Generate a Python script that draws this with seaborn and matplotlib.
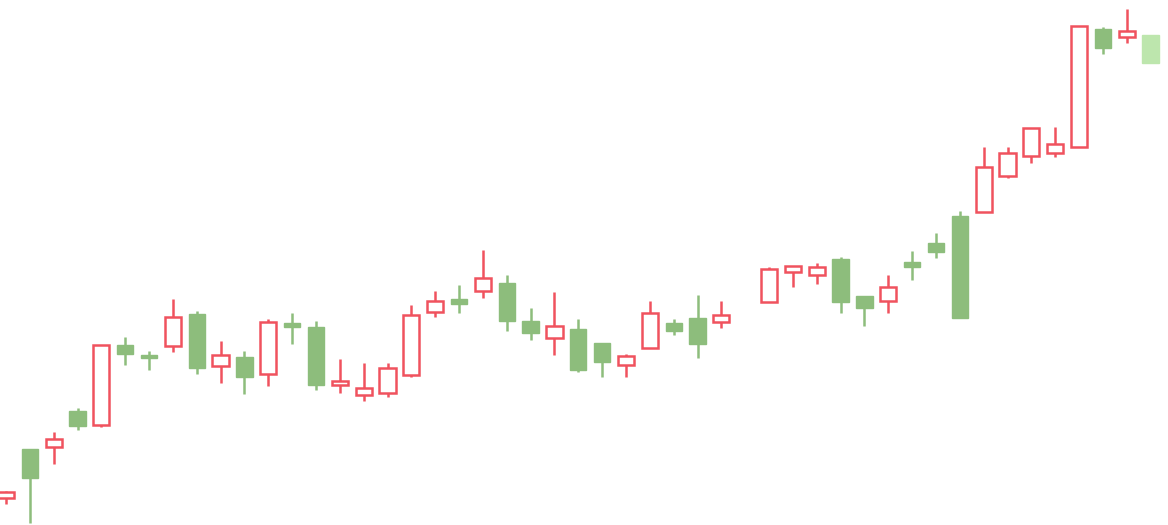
import numpy as np
import pandas as pd
import seaborn as sns
import matplotlib
matplotlib.use("Agg")
import matplotlib.pyplot as plt

# daily prices (slot 31 is a missing day)
opens = [27, 76, 78, 114, 100, 180, 170, 179, 211, 159, 168, 151, 202, 198, 140, 130,
         132, 150, 213, 226, 234, 242, 204, 187, 196, 182, 160, 177, 202, 207, 203, np.nan,
         223, 253, 250, 266, 229, 224, 263, 282, 309, 313, 349, 369, 372, 378, 496, 488, 490]
highs = [34, 76, 93, 117, 180, 188, 174, 226, 214, 184, 174, 206, 212, 204, 166, 162,
         162, 220, 234, 240, 275, 250, 217, 233, 206, 182, 171, 224, 206, 230, 224, np.nan,
         258, 259, 262, 268, 229, 250, 274, 292, 314, 378, 378, 397, 398, 499, 498, 516, 490]
lows = [21, 2, 61, 95, 98, 160, 155, 173, 151, 142, 131, 139, 181, 135, 132, 124,
        128, 148, 208, 212, 227, 194, 185, 170, 153, 148, 148, 177, 190, 167, 197, np.nan,
        223, 238, 241, 212, 199, 212, 245, 267, 207, 313, 347, 362, 368, 378, 471, 482, 462]
closes = [33, 47, 86, 99, 180, 171, 167, 208, 157, 170, 148, 203, 198, 140, 144, 137,
          157, 210, 224, 221, 247, 204, 192, 199, 155, 163, 169, 212, 194, 181, 210, np.nan,
          256, 259, 258, 223, 217, 238, 258, 273, 207, 358, 372, 397, 381, 499, 477, 494, 462]

df = pd.DataFrame({"open": opens, "high": highs, "low": lows, "close": closes})
df["day"] = np.arange(len(df))
df = df.dropna()
df["up"] = df["close"] >= df["open"]

sns.set_theme(style="white")

red = "#f0525e"
green = "#8dbd7c"
width = 0.68

fig = plt.figure(figsize=(11.68, 5.25), dpi=100)
ax = fig.add_axes([0, 0, 1, 1])

last_day = df["day"].max()
for _, r in df.iterrows():
    d = r["day"]
    lo_body = min(r["open"], r["close"])
    hi_body = max(r["open"], r["close"])
    h = max(hi_body - lo_body, 1.5)
    if r["up"]:
        # hollow red candle for up days
        ax.vlines(d, r["low"], r["high"], color=red, lw=1.8, zorder=1)
        ax.bar(d, h, bottom=lo_body, width=width, facecolor="white",
               edgecolor=red, linewidth=1.8, zorder=2)
    else:
        c = green if d != last_day else "#bde6ad"
        ax.vlines(d, r["low"], r["high"], color=c, lw=1.8, zorder=1)
        ax.bar(d, h, bottom=lo_body, width=width, facecolor=c,
               edgecolor=c, linewidth=1.0, zorder=2)

ax.set_xlim(-0.25, 48.73)
ax.set_ylim(0, 525)
ax.axis("off")

fig.savefig("out.png", dpi=100, facecolor="white")
